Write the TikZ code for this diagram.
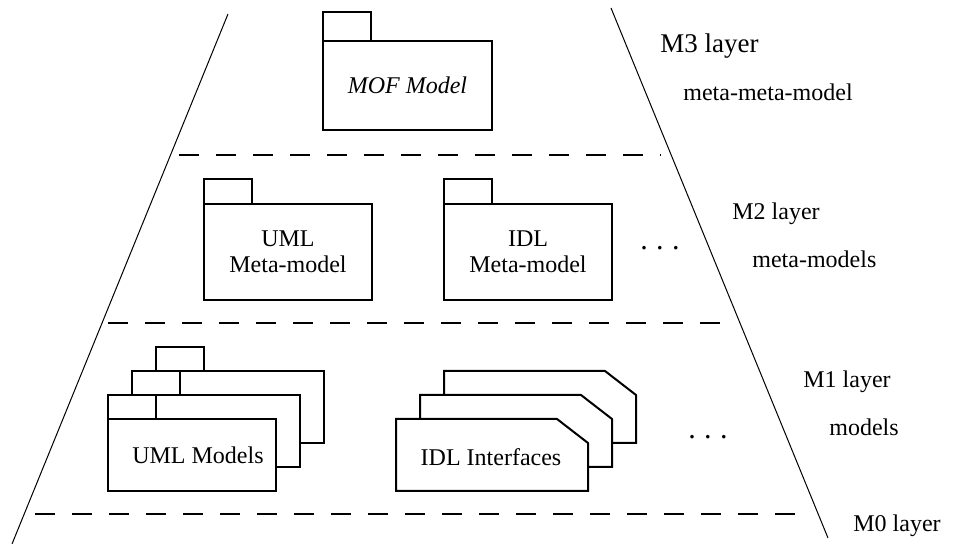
\documentclass[tikz,border=0pt]{standalone}
\usepackage{fontspec}
\setmainfont{Liberation Serif}
\newfontfamily\diagfont{Liberation Serif}
\tikzset{
  pkg/.style={draw, line width=1pt, fill=white, inner sep=0pt, outer sep=0pt, align=center,
    minimum width=84pt, minimum height=36pt},
  tab/.style={line width=1pt, fill=white},
  level/.style={line width=1pt, dash pattern=on 10pt off 8.5pt},
  layer/.style={anchor=base west, inner sep=0pt},
  more/.style={inner sep=0pt, font=\diagfont\fontsize{15}{15}\selectfont}
}
\begin{document}
\begin{tikzpicture}[x=0.5pt, y=-0.5pt, font=\diagfont\fontsize{12}{13}\selectfont, line join=miter]
\useasboundingbox (0,0) rectangle (954,544);
% sides of the pyramid
\coordinate (topL) at (228,14); \coordinate (botL) at (12,544);
\coordinate (topR) at (611,8);  \coordinate (botR) at (828,538);
\draw[line width=0.5pt] (topL) -- (botL) (topR) -- (botR);
% layer borders
\draw[level] (179,155) -- (661,155);
\draw[level] (108,323) -- (733,323);
\draw[level] (35,514) -- (805,514);
% M3
\node[pkg, minimum width=84.5pt, minimum height=44.5pt] (mof) at (407.5,85.5) {\itshape MOF Model};
\draw[tab] (mof.north west) rectangle ++(48,-29);
% M2
\node[pkg, minimum height=48pt] (umlmeta) at (288,252) {UML\\Meta-model};
\draw[tab] (umlmeta.north west) rectangle ++(48,-25);
\node[pkg, minimum height=48pt] (idlmeta) at (528,252) {IDL\\Meta-model};
\draw[tab] (idlmeta.north west) rectangle ++(48,-25);
\node[more] (dotsmeta) at (660,248) {.\kern4.25pt.\kern4.25pt.};
% M1
\node[pkg] (umlC) at (240,407) {};
\draw[tab] (umlC.north west) rectangle ++(48,-24);
\node[pkg] (umlB) at (216,431) {};
\draw[tab] (umlB.north west) rectangle ++(48,-24);
\node[pkg] (umlA) at (192,455) {\kern6pt UML Models};
\draw[tab] (umlA.north west) rectangle ++(48,-24);
\foreach \d in {48,24,0}
  \draw[tab] ({396+\d},{419-\d}) -- ++(161,0) -- ++(31,24) -- ++(0,48) -- ++(-192,0) -- cycle;
\node (idlA) at (491,457) {IDL Interfaces};
\node[more] (dotsmodel) at (708,437) {.\kern4.25pt.\kern4.25pt.};
% layer names
\node[layer] (m3) at (660,53) {\fontsize{13.5}{15}\selectfont M3 layer};
\node[layer] (m3txt) at (683,101) {meta-meta-model};
\node[layer] (m2) at (732,220) {M2 layer};
\node[layer] (m2txt) at (752,268) {meta-models};
\node[layer] (m1) at (803,388) {M1 layer};
\node[layer] (m1txt) at (829,436) {models};
\node[layer] (m0) at (853,532) {M0 layer};
\end{tikzpicture}
\end{document}
